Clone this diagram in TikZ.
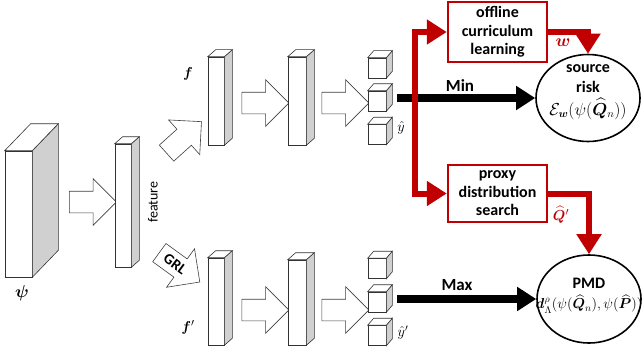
\documentclass[tikz,border=0pt]{standalone}
\usepackage{amsmath,bm}
\usepackage{fontspec}
\setmainfont{Carlito}
\usetikzlibrary{calc,arrows.meta,shapes.arrows,shapes.geometric}
\definecolor{PRed}{HTML}{C00000}
\definecolor{SideGray}{HTML}{D0D0D0}
\tikzset{
    slab/.style = {draw=black!80, fill=white, inner sep=0pt, line width=0.6pt},
    hollow/.style = {single arrow, draw=black!75, fill=white, line width=0.6pt,
        inner xsep=0pt, inner ysep=10.5pt,
        single arrow head extend=12.5pt, minimum height=47pt},
    redbox/.style = {draw=PRed, line width=2.5pt, fill=white,
        minimum width=99pt, align=center,
        font=\fontsize{16}{18.5}\selectfont\bfseries},
    goal/.style = {ellipse, draw, line width=1.6pt,
        minimum width=104pt, minimum height=87pt, inner sep=0pt},
    goaltxt/.style = {align=center, font=\fontsize{16}{20}\selectfont\bfseries},
    thickarrow/.style = {draw, line width=8pt, -{Triangle[length=19pt,width=23pt]}},
    redarrow/.style = {draw=PRed, line width=6pt, -{Triangle[length=20pt,width=24pt]}}
}
% side and top face of a block
\newcommand{\slabback}[2]{%
    \draw[slab,fill=SideGray] (#1.north east) -- ++#2 -- ($(#1.south east)+#2$) -- (#1.south east) -- cycle;
    \draw[slab] (#1.north west) -- ++#2 -- ($(#1.north east)+#2$) -- (#1.north east) -- cycle;}

\begin{document}
\begin{tikzpicture}[x=1pt,y=-1pt]
    \useasboundingbox (0,0) rectangle (642,353);
    % input and feature
    \node[slab, minimum width=27pt, minimum height=126pt] (psi) at (18.5,214) {};
    \slabback{psi}{(26,-27)}
    \node[font=\fontsize{17}{17}\selectfont] (psilbl) at (22,293) {$\bm{\psi}$};
    \node[hollow] (a0) at (87.5,202) {};
    \node[slab, minimum width=16pt, minimum height=123pt] (feat) at (123,205.5) {};
    \slabback{feat}{(8,-7)}
    \node[rotate=90, font=\fontsize{14}{14}\selectfont] (featlbl) at (153,202) {feature};
    \node[hollow, rotate=42] (up) at (180,141) {};
    \node[hollow, rotate=-36, minimum height=50pt, inner ysep=6pt,
          font=\fontsize{15}{15}\selectfont\bfseries] (grl) at (175,264) {GRL};
    % upper branch
    \node[slab, minimum width=16pt, minimum height=88pt] (f1) at (216,101) {};
    \slabback{f1}{(8,-7)}
    \node[font=\fontsize{15}{15}\selectfont] (flbl) at (188,74) {$\bm{f}$};
    \node[hollow] (a1) at (260,103) {};
    \node[slab, minimum width=18pt, minimum height=88pt] (f2) at (297,101) {};
    \slabback{f2}{(8,-7)}
    \node[hollow] (a2) at (340,103) {};
    \foreach \i/\y in {1/68,2/101,3/134.5} {
        \node[slab, minimum width=18pt, minimum height=20pt] (c\i) at (377,\y) {};
        \slabback{c\i}{(6,-7)}
    }
    \node[font=\fontsize{14}{14}\selectfont] (yhat) at (401,128) {$\hat{y}$};
    % lower branch
    \node[slab, minimum width=16pt, minimum height=87pt] (g1) at (216,301.5) {};
    \slabback{g1}{(8,-7)}
    \node[font=\fontsize{15}{15}\selectfont] (glbl) at (188,327) {$\bm{f}'$};
    \node[hollow] (b1) at (260,310) {};
    \node[slab, minimum width=18pt, minimum height=85pt] (g2) at (297,302.5) {};
    \slabback{g2}{(8,-7)}
    \node[hollow] (b2) at (340,310) {};
    \foreach \i/\y in {1/268.5,2/302,3/335.5} {
        \node[slab, minimum width=18pt, minimum height=20pt] (d\i) at (377,\y) {};
        \slabback{d\i}{(6,-7)}
    }
    \node[font=\fontsize{14}{14}\selectfont] (yhatp) at (403,333) {$\hat{y}'$};
    % objectives
    \node[goal] (risk) at (588,98) {};
    \node[goaltxt] (risktxt) at ([yshift=19pt]risk.center) {source\\risk};
    \node[font=\fontsize{16}{16}\selectfont] (riskeq) at ([yshift=-11pt]risk.center)
        {$\mathcal{E}_{\bm w}(\psi(\widehat{\bm Q}_n))$};
    \node[goal, minimum height=88pt] (pmd) at (589,299) {};
    \node[goaltxt] (pmdtxt) at ([yshift=16pt]pmd.center) {PMD};
    \node[font=\fontsize{14.5}{14.5}\selectfont] (pmdeq) at ([yshift=-5pt]pmd.center)
        {$\bm{d}^{\rho}_{\Lambda}(\psi(\widehat{\bm Q}_n),\psi(\widehat{\bm P}))$};
    \node[redbox, minimum height=60pt] (offline) at (497.5,32) {offline\\curriculum\\learning};
    \node[redbox, minimum height=57pt] (proxy) at (497.5,193.5) {proxy\\distribution\\search};
    % min / max
    \draw[thickarrow] ($(c2.east |- risk.west)+(11,0)$) -- (risk.west);
    \node[font=\fontsize{17}{17}\selectfont\bfseries] (minlbl) at (460,86) {Min};
    \draw[thickarrow] ($(d2.east |- pmd.west)+(11,0)$) -- (pmd.west);
    \node[font=\fontsize{17}{17}\selectfont\bfseries] (maxlbl) at (457,285) {Max};
    % red flow
    \coordinate (split) at (415,98);
    \draw[redarrow] (split) |- (offline.west);
    \draw[redarrow] (split) |- (proxy.west);
    \draw[redarrow] (offline.east) -| (risk.north);
    \draw[redarrow] (proxy.east) -| (pmd.north);
    \node[text=PRed, font=\fontsize{17}{17}\selectfont] (wlbl) at (563,43) {$\bm{w}$};
    \node[text=PRed, font=\fontsize{15}{15}\selectfont] (qlbl) at (561,215) {$\widehat{\bm Q}'$};
\end{tikzpicture}
\end{document}
